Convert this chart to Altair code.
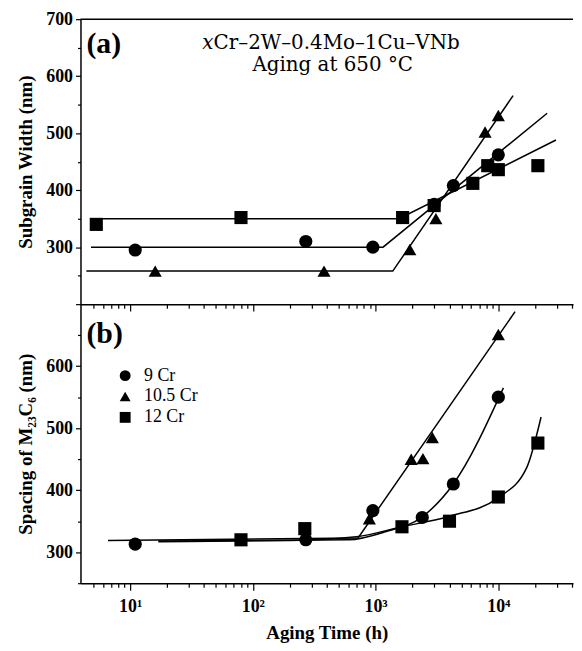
import altair as alt
import pandas as pd

series = ["9 Cr", "10.5 Cr", "12 Cr"]
shapes = ["circle", "triangle-up", "square"]

# ---------- Panel (a): subgrain width ----------
a_t_9 = [11, 270, 950, 3000, 4300, 10000]
a_v_9 = [295, 310, 300, 375, 408, 462]
a_t_105 = [16, 380, 1900, 3100, 7800, 10000]
a_v_105 = [258, 258, 296, 350, 502, 531]
a_t_12 = [5.3, 80, 1660, 3000, 6200, 8200, 10000, 21000]
a_v_12 = [340, 352, 352, 373, 412, 443, 436, 443]

a_fit_t_9 = [4.8, 1150, 25000]
a_fit_v_9 = [300, 300, 535]
a_fit_t_105 = [4.4, 1380, 13200]
a_fit_v_105 = [258, 258, 566]
a_fit_t_12 = [4.8, 1550, 29500]
a_fit_v_12 = [350, 350, 488]

# ---------- Panel (b): spacing of M23C6 ----------
b_t_9 = [11, 270, 950, 2400, 4300, 10000]
b_v_9 = [313, 320, 367, 356, 410, 550]
b_t_105 = [890, 1950, 2430, 2900, 10000]
b_v_105 = [354, 450, 451, 485, 651]
b_t_12 = [80, 265, 1640, 4000, 10000, 21000]
b_v_12 = [320, 338, 341, 350, 389, 476]

b_fit_t_9 = [17, 600, 1200, 2400, 4300, 11000]
b_fit_v_9 = [318, 320, 333, 357, 410, 565]
b_fit_t_105 = [6.6, 720, 13700]
b_fit_v_105 = [319, 323, 688]
b_fit_t_12 = [17, 200, 700, 1640, 4000, 10000, 17000, 22300]
b_fit_v_12 = [317, 319, 325, 341, 358, 388, 436, 518]

x_ticks = [5, 6, 7, 8, 9, 10, 20, 30, 40, 50, 60, 70, 80, 90, 100,
           200, 300, 400, 500, 600, 700, 800, 900, 1000,
           2000, 3000, 4000, 5000, 6000, 7000, 8000, 9000, 10000,
           20000, 30000, 40000]
decades = [10, 100, 1000, 10000]
decade_labels = ["10¹", "10²", "10³", "10⁴"]
y_ticks = [250, 300, 350, 400, 450, 500, 550, 600, 650, 700]
y_major = [300, 400, 500, 600, 700]
a_y_labels = [300, 400, 500, 600, 700]
b_y_labels = [300, 400, 500, 600]

W = 496
HA = 287
HB = 281
SERIF = "Liberation Serif"


def long_df(names, ts, vs):
    rows = []
    for name, t, v in zip(names, ts, vs):
        for ti, vi in zip(t, v):
            rows.append({"t": ti, "v": vi, "s": name})
    return pd.DataFrame(rows)


a_pts = long_df(series, [a_t_9, a_t_105, a_t_12], [a_v_9, a_v_105, a_v_12])
a_fit = long_df(series, [a_fit_t_9, a_fit_t_105, a_fit_t_12], [a_fit_v_9, a_fit_v_105, a_fit_v_12])
b_pts = long_df(series, [b_t_9, b_t_105, b_t_12], [b_v_9, b_v_105, b_v_12])
b_fit_curved = long_df(["9 Cr", "12 Cr"], [b_fit_t_9, b_fit_t_12], [b_fit_v_9, b_fit_v_12])
b_fit_straight = long_df(["10.5 Cr"], [b_fit_t_105], [b_fit_v_105])


def arr(vals):
    return "[" + ",".join(str(v) for v in vals) + "]"


label_expr = " : ".join(
    f"datum.value == {d} ? '{l}'" for d, l in zip(decades, decade_labels)
) + " : ''"
major_test = f"indexof({arr(decades)}, datum.value) >= 0"
y_major_test = f"indexof({arr(y_major)}, datum.value) >= 0"

xscale = alt.Scale(type="log", domain=[3.94, 40600], nice=False)


def x_enc(show_labels):
    return alt.X(
        "t:Q",
        scale=xscale,
        axis=alt.Axis(
            values=x_ticks,
            labels=show_labels,
            labelExpr=label_expr,
            labelOverlap=False,
            title="Aging Time (h)" if show_labels else "",
            tickSize={"condition": {"test": major_test, "value": 7}, "value": 4},
            labelPadding=8,
            titlePadding=8,
        ),
    )


def y_enc(field_title, domain, labels):
    return alt.Y(
        "v:Q",
        scale=alt.Scale(domain=domain, zero=False, nice=False),
        axis=alt.Axis(
            values=y_ticks,
            labelExpr=f"indexof({arr(labels)}, datum.value) >= 0 ? '' + datum.value : ''",
            labelOverlap=False,
            title=field_title,
            tickSize={"condition": {"test": y_major_test, "value": 5}, "value": 3},
            labelPadding=3,
            titlePadding=10,
            labelFontSize=18,
            labelFont=SERIF,
            labelFontWeight="bold",
            labelColor="black",
        ),
    )


shape_scale = alt.Scale(domain=series, range=shapes)
one = pd.DataFrame({"k": [0]})


def text_layer(txt, x, y, size, weight="normal", style="normal", align="left", font=SERIF):
    return alt.Chart(one).mark_text(
        text=txt, font=font, fontSize=size, fontWeight=weight, fontStyle=style,
        align=align, baseline="middle", color="black",
    ).encode(x=alt.value(x), y=alt.value(y))


legend_shared = alt.Legend(
    orient="none", legendX=36, legendY=350, title=None,
    labelFont=SERIF, labelFontSize=18, labelColor="black",
    symbolSize=120, symbolFillColor="black", symbolStrokeColor="black",
    symbolStrokeWidth=0, rowPadding=3, labelOffset=10,
)


def panel(pts, fits, ytitle, ydomain, ylabels, show_x, h):
    xe = x_enc(show_x)
    ye = y_enc(ytitle, ydomain, ylabels)
    layers = []
    for fit, interp in fits:
        layers.append(
            alt.Chart(fit).mark_line(color="black", strokeWidth=1.5, interpolate=interp).encode(
                x=xe, y=ye, detail="s:N"
            )
        )
    points = alt.Chart(pts).mark_point(
        filled=True, color="black", size=175, opacity=1, strokeWidth=0
    ).encode(
        x=xe,
        y=ye,
        shape=alt.Shape("s:N", scale=shape_scale, legend=legend_shared),
    )
    layers.append(points)
    return layers


top_rule = alt.Chart(one).mark_rule(color="black", strokeWidth=1.5).encode(
    x=alt.value(0), x2=alt.value(W), y=alt.value(0)
)

pa = alt.layer(
    *panel(a_pts, [(a_fit, "linear")], "Subgrain Width (nm)", [200, 700], a_y_labels, False, HA),
    top_rule,
    text_layer("(a)", 6, 25, 30, weight="bold"),
    text_layer("x", 134, 24, 20, style="italic", align="right", font="DejaVu Serif"),
    text_layer("Cr–2W–0.4Mo–1Cu–VNb", 134, 24, 20, font="DejaVu Serif"),
    text_layer("Aging at 650 °C", 254, 46, 20, align="center", font="DejaVu Serif"),
).properties(width=W, height=HA)

pb = alt.layer(
    *panel(b_pts, [(b_fit_curved, "monotone"), (b_fit_straight, "linear")],
           "Spacing of M₂₃C₆ (nm)", [250, 700], b_y_labels, True, HB),
    text_layer("(b)", 6, 30, 30, weight="bold"),
).properties(width=W, height=HB)

chart = alt.vconcat(pa, pb, spacing=0, bounds="flush").properties(
    padding={"left": 9, "top": 0, "right": 0, "bottom": 5}
).configure_view(stroke=None).configure_axis(
    labelFont=SERIF, labelFontWeight="bold", labelFontSize=18, labelColor="black",
    titleFont=SERIF, titleFontWeight="bold", titleFontSize=19, titleColor="black",
    domainColor="black", domainWidth=1.5, tickColor="black", tickWidth=1.2, grid=False,
)

chart.save("out.html", embed_options={"renderer": "svg", "actions": False})
